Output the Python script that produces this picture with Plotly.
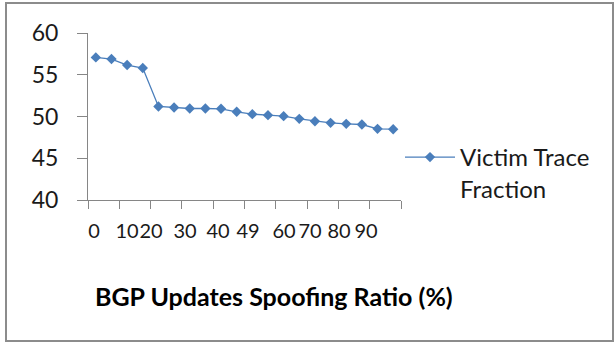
import plotly.graph_objects as go

# Data
x_pos = list(range(20))  # 20 data points (category index)
values = [57.08, 56.88, 56.16, 55.80, 51.20, 51.08, 50.96, 50.96, 50.92, 50.56,
          50.28, 50.16, 50.04, 49.72, 49.44, 49.24, 49.12, 49.04, 48.52, 48.48]
series_name = "Victim Trace<br>Fraction"
tick_labels = ["0", "10", "20", "30", "40", "49", "60", "70", "80", "90"]
y_ticks = [40, 45, 50, 55, 60]

# layout geometry (pixels)
W, H = 615, 345
L, R, T, B = 88, 401, 33, 200
pw, ph = R - L, B - T
units_per_px = 20 / pw
label_px = [94, 127, 151, 185, 218, 248, 284, 310, 339, 366]
label_vals = [(p - L) * units_per_px for p in label_px]

def px_x(p):
    return (p - L) / pw

def px_y(p):
    return (B - p) / ph

FONT = "Lato, Carlito, Calibri, sans-serif"
AX = "#868686"
BLUE = "#4a7ebb"

fig = go.Figure()
fig.add_trace(go.Scatter(
    x=[i + 0.5 for i in x_pos], y=values, name=series_name,
    mode="lines+markers",
    line=dict(color=BLUE, width=1.3),
    marker=dict(symbol="diamond", size=8, color=BLUE),
    showlegend=True,
))
# invisible trace for the overlaid label axis
fig.add_trace(go.Scatter(x=[0, 20], y=[40, 40], xaxis="x2", mode="none",
                         showlegend=False, hoverinfo="skip"))

fig.update_layout(
    width=W, height=H,
    margin=dict(l=L, r=W - R, t=T, b=H - B),
    paper_bgcolor="white", plot_bgcolor="white",
    font=dict(family=FONT, color="#1a1a1a"),
    xaxis=dict(range=[0, 20], showgrid=False, zeroline=False,
               showline=True, linecolor=AX, linewidth=1,
               tickmode="array", tickvals=list(range(0, 21, 2)),
               ticks="outside", ticklen=8, tickcolor=AX,
               showticklabels=False),
    xaxis2=dict(range=[0, 20], overlaying="x", side="bottom",
                showgrid=False, zeroline=False, showline=False,
                tickmode="array", tickvals=label_vals, ticktext=tick_labels,
                ticks="", tickangle=0, ticklabelstandoff=17,
                tickfont=dict(family=FONT, size=20, color="#1a1a1a")),
    yaxis=dict(range=[40, 60], showgrid=False, zeroline=False,
               showline=True, linecolor=AX, linewidth=1,
               tickvals=y_ticks, ticks="outside", ticklen=10, tickcolor=AX,
               ticklabelstandoff=14,
               tickfont=dict(family=FONT, size=23, color="#1a1a1a")),
    legend=dict(x=px_x(400), y=px_y(135), xanchor="left", yanchor="top",
                valign="top", itemwidth=50,
                font=dict(family=FONT, size=24, color="#1a1a1a"),
                bgcolor="rgba(0,0,0,0)"),
    showlegend=True,
)

fig.add_annotation(text="<b>BGP Updates Spoofing Ratio (%)</b>",
                   xref="paper", yref="paper", x=px_x(274), y=px_y(296),
                   showarrow=False, xanchor="center", yanchor="middle",
                   font=dict(family=FONT, size=25, color="#000000"))

fig.add_shape(type="rect", xref="paper", yref="paper",
              x0=px_x(6), x1=px_x(613), y0=px_y(341), y1=px_y(3),
              line=dict(color="#8c8c8c", width=2), fillcolor="rgba(0,0,0,0)")

fig.write_html("out.html", config={"displayModeBar": False},
               post_script="document.body.style.margin='0';document.body.style.padding='0';")
